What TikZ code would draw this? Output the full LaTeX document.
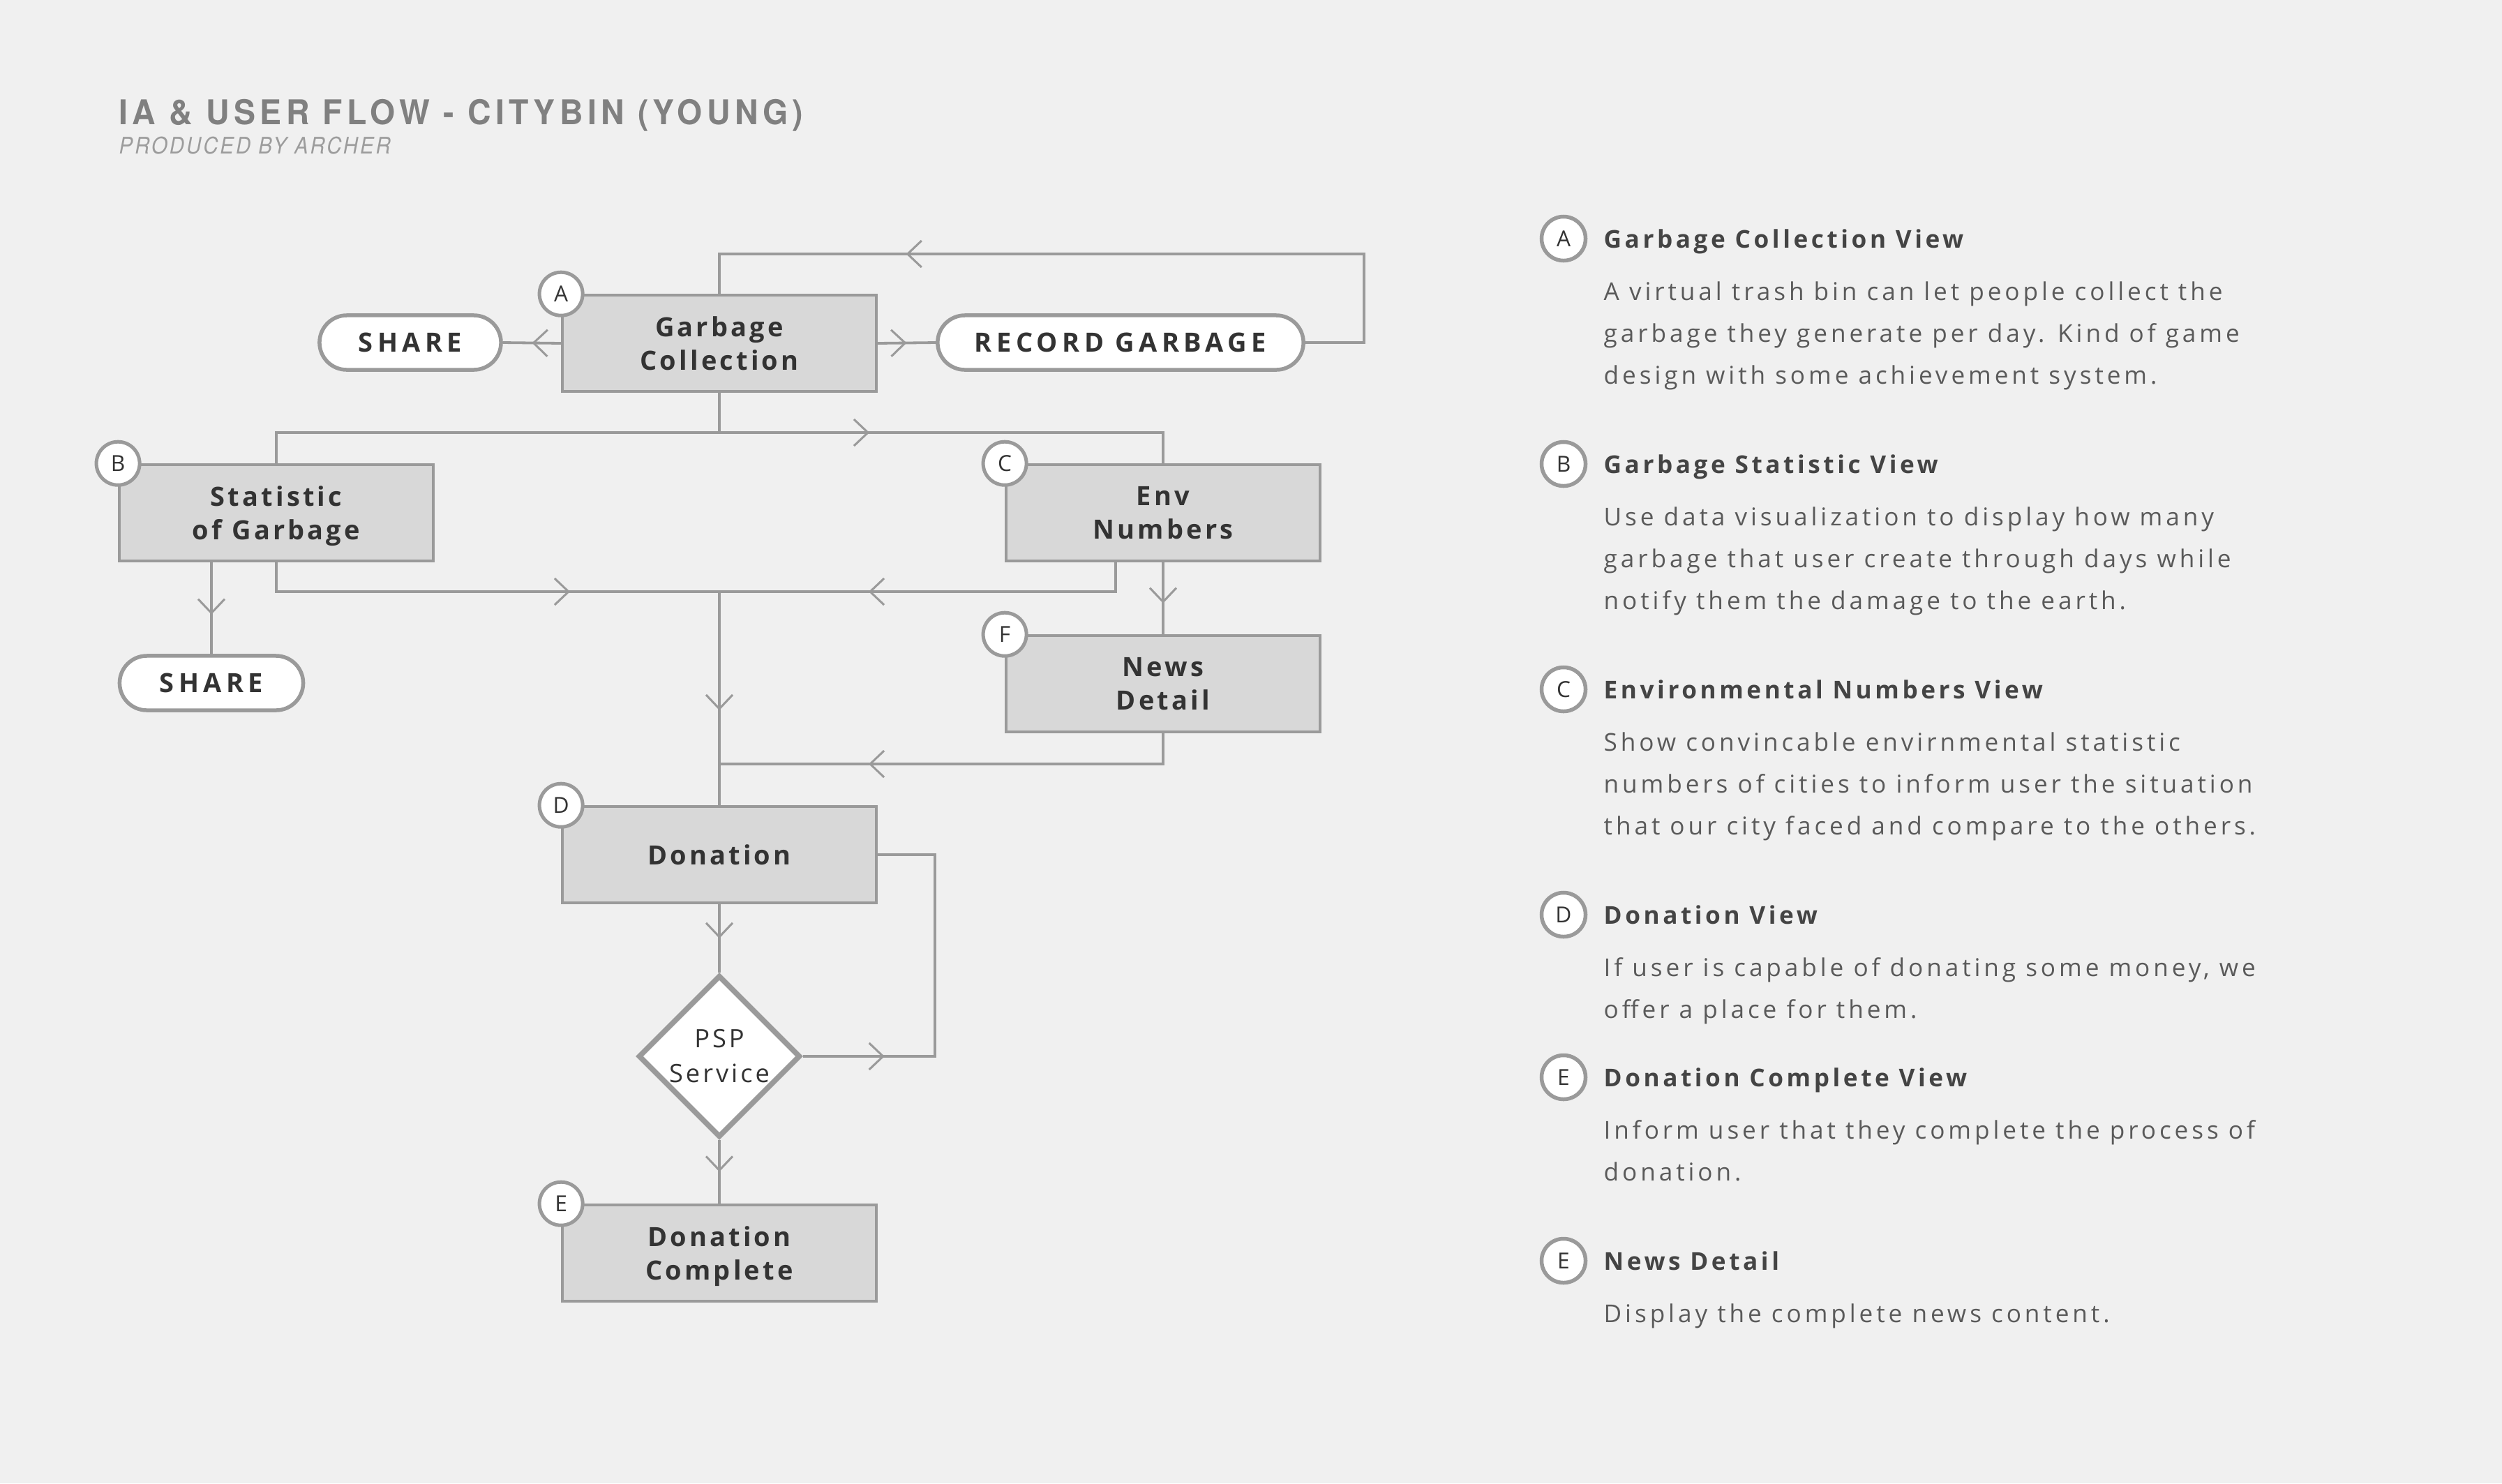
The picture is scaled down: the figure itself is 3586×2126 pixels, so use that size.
\documentclass[tikz,border=0pt]{standalone}
\usepackage{fontspec}
\usetikzlibrary{arrows.meta,shapes.geometric,decorations.markings}

\newfontfamily\titlefont[FakeStretch=0.95,LetterSpace=13]{TeX Gyre Heros}
\newfontfamily\subfont[FakeStretch=0.9,LetterSpace=9]{TeX Gyre Heros}
\newfontfamily\boxfont[LetterSpace=11]{Open Sans}
\newfontfamily\pillfont[LetterSpace=17]{Open Sans}
\newfontfamily\legendfont[LetterSpace=13]{Open Sans}
\newfontfamily\descfont[LetterSpace=14]{Open Sans}

\definecolor{paper}{HTML}{F0F0F0}
\definecolor{boxgray}{HTML}{D8D8D8}
\definecolor{linegray}{HTML}{9A9A9A}
\definecolor{ink}{HTML}{333333}
\definecolor{titlegray}{HTML}{808080}
\definecolor{subgray}{HTML}{9C9C9C}
\definecolor{headink}{HTML}{444444}
\definecolor{descink}{HTML}{5A5A5A}

\tikzset{
  chev/.tip={Straight Barb[length=0.2cm,width=0.38cm,line width=0.03cm]},
  link/.style={draw=linegray,line width=0.038cm},
  chevat/.style={postaction={decorate,decoration={markings,mark=at position #1 with {\arrow{chev}}}}},
  box/.style={draw=linegray,fill=boxgray,line width=0.035cm,minimum width=4.5cm,minimum height=1.38cm,
    inner sep=0pt,text depth=0pt,align=center,text=ink,font=\boxfont\bfseries\fontsize{10.8}{13.7}\selectfont},
  pill/.style={draw=linegray,fill=white,line width=0.055cm,rounded corners=0.39cm,minimum height=0.78cm,
    inner sep=0pt,text=ink,font=\pillfont\bfseries\fontsize{10.8}{13.7}\selectfont},
  psp/.style={diamond,aspect=1,draw=linegray,fill=white,line width=0.075cm,minimum width=2.32cm,minimum height=2.32cm,
    inner sep=0pt,align=center,text=ink,font=\boxfont\fontsize{10.3}{14.2}\selectfont},
  badge/.style={circle,draw=linegray,fill=white,line width=0.05cm,minimum size=0.62cm,inner sep=0pt,
    text=ink,font=\legendfont\fontsize{9}{10}\selectfont},
  head/.style={anchor=base west,inner sep=0pt,text=headink,font=\legendfont\bfseries\fontsize{10}{12}\selectfont},
  desc/.style={anchor=base west,inner sep=0pt,text=descink,font=\descfont\fontsize{10}{12}\selectfont},
}

\begin{document}
\begin{tikzpicture}[x=0.01cm,y=-0.01cm]
  \fill[paper] (0,0) rectangle (3586,2126);
  \useasboundingbox (0,0) rectangle (3586,2126);

  % title
  \node[anchor=base west,inner sep=0pt,text=titlegray,font=\titlefont\bfseries\fontsize{13.9}{16}\selectfont] (title) at (170,178) {IA \& USER FLOW - CITYBIN (YOUNG)};
  \node[anchor=base west,inner sep=0pt,text=subgray,font=\subfont\itshape\fontsize{9.3}{10}\selectfont] (subtitle) at (170,220) {PRODUCED BY ARCHER};

  % screens
  \node[box] (gc) at (1031,492) {Garbage\\Collection};
  \node[box] (stat) at (396,735) {Statistic\\of Garbage};
  \node[box] (env) at (1667,735) {Env\\Numbers};
  \node[box] (news) at (1667,980) {News\\Detail};
  \node[box] (don) at (1031,1225) {Donation};
  \node[box] (done) at (1031,1796) {Donation\\Complete};
  \node[psp] (psp) at (1031,1514) {PSP\\Service};
  \node[pill,minimum width=2.6cm] (share) at (588,491) {SHARE};
  \node[pill,minimum width=5.24cm] (record) at (1606,491) {RECORD GARBAGE};
  \node[pill,minimum width=2.63cm] (share2) at (303,979) {SHARE};

  % connectors
  \coordinate (loop) at (1955,364);
  \coordinate (split) at (1031,620);
  \coordinate (merge) at (1031,848);
  \coordinate (merge2) at (1031,1095);
  \coordinate (back) at (1340,1514);
  \draw[link,chevat=0.5] (gc.west) -- (share.east);
  \draw[link,chevat=0.5] (gc.east) -- (record.west);
  \draw[link,chevat=8.67cm] (record.east) -| (loop) -| (gc.north);
  \draw[link] (gc.south) -- (split);
  \draw[link] (split) -| (stat.north);
  \draw[link,chevat=2.15cm] (split) -| (env.north);
  \draw[link,chevat=0.75cm] (stat.south -| share2.north) -- (share2.north);
  \draw[link,chevat=4.63cm] (stat.south) |- (merge);
  \draw[link,chevat=3.96cm] ([xshift=-0.68cm]env.south) |- (merge);
  \draw[link,chevat=0.59cm] (env.south) -- (news.north);
  \draw[link,chevat=4.66cm] (news.south) |- (merge2);
  \draw[link,chevat=1.70cm] (merge) -- (don.north);
  \draw[link,chevat=0.5] (don.south) -- (psp.north);
  \draw[link,chevat=0.5] (psp.south) -- (done.north);
  \draw[link,chevat=1.17cm] (psp.east) -- (back) |- (don.east);

  % badges
  \foreach \n/\l in {gc/A,stat/B,env/C,news/F,don/D,done/E}
    \node[badge] (badge-\n) at (\n.north west) {\l};

  % legend
  \foreach \l/\y/\h [count=\i] in {A/342/Garbage Collection View,B/665/Garbage Statistic View,
      C/988/Environmental Numbers View,D/1311/Donation View,E/1544/Donation Complete View,E/1807/News Detail}{
    \node[badge,minimum size=0.63cm,line width=0.055cm] (key-\i) at (2241,\y) {\l};
    \node[head] (head-\i) at (2298,\y+13) {\h};
  }
  \foreach \t [count=\j] in {A virtual trash bin can let people collect the,garbage they generate per day. Kind of game,design with some achievement system.}
    \node[desc] (descA-\j) at (2298,370+60*\j) {\t};
  \foreach \t [count=\j] in {Use data visualization to display how many,garbage that user create through days while,notify them the damage to the earth.}
    \node[desc] (descB-\j) at (2298,693+60*\j) {\t};
  \foreach \t [count=\j] in {Show convincable envirnmental statistic,numbers of cities to inform user the situation,that our city faced and compare to the others.}
    \node[desc] (descC-\j) at (2298,1016+60*\j) {\t};
  \foreach \t [count=\j] in {{If user is capable of donating some money, we},offer a place for them.}
    \node[desc] (descD-\j) at (2298,1339+60*\j) {\t};
  \foreach \t [count=\j] in {Inform user that they complete the process of,donation.}
    \node[desc] (descE-\j) at (2298,1572+60*\j) {\t};
  \node[desc] (descF-1) at (2298,1895) {Display the complete news content.};
\end{tikzpicture}
\end{document}
